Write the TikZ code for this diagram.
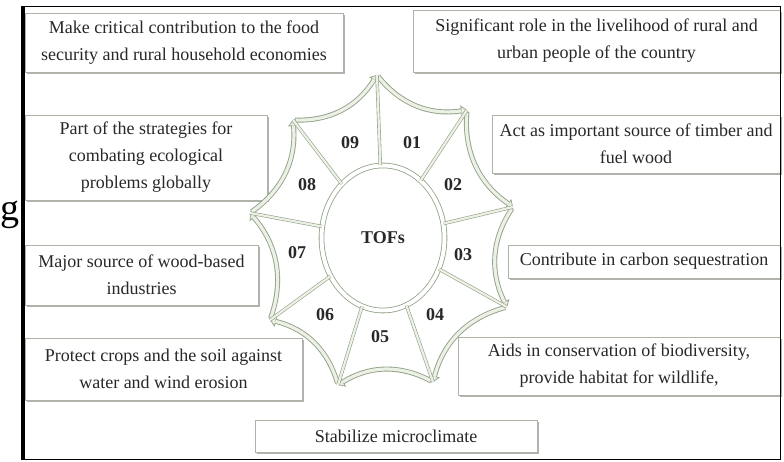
\documentclass[tikz,border=0pt]{standalone}
\usepackage{fontspec}
\setmainfont{Liberation Serif}
\usetikzlibrary{arrows.meta,shapes.geometric,shadows}
\definecolor{arcdark}{RGB}{145,162,135}
\definecolor{arclight}{RGB}{236,240,230}
\definecolor{boxline}{RGB}{172,180,166}
\definecolor{txt}{RGB}{40,40,40}
\begin{document}
\begin{tikzpicture}[x=1pt,y=1pt,
  box/.style={draw=boxline, line width=0.8pt, fill=white, align=center, text=txt,
    font=\fontsize{18}{27}\selectfont, inner sep=0pt,
    drop shadow={shadow xshift=2pt, shadow yshift=-2.5pt, fill=black!50, opacity=0.6}},
  num/.style={font=\bfseries\fontsize{18}{18}\selectfont, text=txt, inner sep=1pt},
  arcb/.style={draw=arcdark, line width=5pt, shorten <=2pt,
    -{Triangle[length=6pt,width=11pt,line width=0.7pt,fill=arclight]},
    postaction={draw=arclight, line width=3.2pt, -, shorten <=2.5pt, shorten >=5.5pt}},
  spoke/.style={draw=arcdark, line width=0.6pt, double=arclight, double distance=2.2pt}]
\useasboundingbox (0,0) rectangle (784,462);
\fill[white] (0,0) rectangle (784,462);

% boxes
\node[box, minimum width=318pt, minimum height=59pt] (b1) at (184,419.5)
  {Make critical contribution to the food\\security and rural household economies};
\node[box, minimum width=367pt, minimum height=62pt] (b2) at (596.5,421)
  {Significant role in the livelihood of rural and\\urban people of the country};
\node[box, minimum width=288pt, minimum height=58pt] (b3) at (636,318)
  {Act as important source of timber and\\fuel wood};
\node[box, minimum width=242pt, minimum height=85pt] (b4) at (146,304.5)
  {Part of the strategies for\\combating ecological\\problems globally};
\node[box, minimum width=233pt, minimum height=60pt] (b5) at (141.5,187)
  {Major source of wood-based\\industries};
\node[box, minimum width=272pt, minimum height=33pt] (b6) at (644,200.5)
  {Contribute in carbon sequestration};
\node[box, minimum width=277pt, minimum height=62pt] (b7) at (163.5,93)
  {Protect crops and the soil against\\water and wind erosion};
\node[box, minimum width=322pt, minimum height=58pt] (b8) at (619,96)
  {Aids in conservation of biodiversity,\\provide habitat for wildlife,};
\node[box, minimum width=282pt, minimum height=32pt] (b9) at (396,26)
  {Stabilize microclimate};

% frame
\draw[black, line width=1pt] (23,2) rectangle (780,455);
\draw[black, line width=3.5pt] (23,1.5) -- (23,455.5);

% letter at left
\node[font=\fontsize{38}{38}\selectfont, anchor=base west, inner sep=0pt] (g) at (0.5,241) {g};

% star tips
\coordinate (t1) at (377,387);
\coordinate (t2) at (467,352);
\coordinate (t3) at (513,255);
\coordinate (t4) at (507,155);
\coordinate (t5) at (433,80);
\coordinate (t6) at (338,77);
\coordinate (t7) at (270,142);
\coordinate (t8) at (250,249);
\coordinate (t9) at (293,342);

% curved arrows
\draw[arcb] (t1) to[bend right=30] (t2);
\draw[arcb] (t2) to[bend right=30] (t3);
\draw[arcb] (t3) to[bend right=30] (t4);
\draw[arcb] (t4) to[bend right=30] (t5);
\draw[arcb] (t5) to[bend right=30] (t6);
\draw[arcb] (t6) to[bend right=30] (t7);
\draw[arcb] (t7) to[bend right=30] (t8);
\draw[arcb] (t8) to[bend right=30] (t9);
\draw[arcb] (t9) to[bend right=30] (t1);

% centre
\node[ellipse, draw=arcdark, line width=0.8pt, double=white, double distance=4pt,
  fill=white, minimum width=123pt, minimum height=145pt, num] (E) at (383,224) {TOFs};

\foreach \i in {1,...,9} { \draw[spoke] (E) -- (t\i); }

% numbers
\node[num] (n1) at (412,319) {01};
\node[num] (n2) at (453,277) {02};
\node[num] (n3) at (463,207) {03};
\node[num] (n4) at (435,147) {04};
\node[num] (n5) at (380,125) {05};
\node[num] (n6) at (325,147) {06};
\node[num] (n7) at (297,209) {07};
\node[num] (n8) at (307,277) {08};
\node[num] (n9) at (350,319) {09};
\end{tikzpicture}
\end{document}
